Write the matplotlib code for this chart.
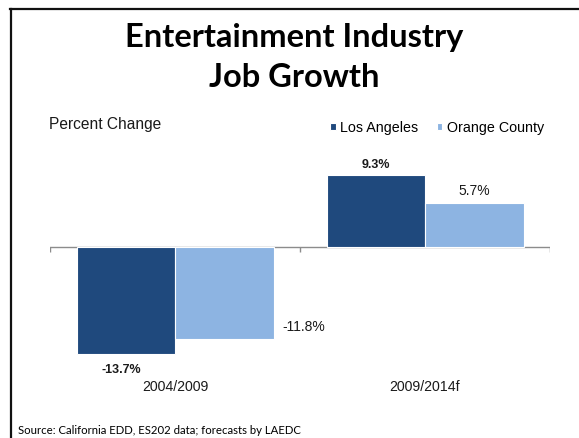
import matplotlib.pyplot as plt
from matplotlib.lines import Line2D

# Job growth, percent change by period
periods = ['2004/2009', '2009/2014f']
los_angeles = [-13.7, 9.3]
orange_county = [-11.8, 5.7]
series_names = ['Los Angeles', 'Orange County']

la_color = '#1F497D'
oc_color = '#8DB4E2'

fig = plt.figure(figsize=(5.79, 4.38), dpi=100)
ax = fig.add_axes([0.0864, 0.1690, 0.8636, 0.4797])

width = 0.394
x = list(range(len(periods)))
b1 = ax.bar([i - width / 2 for i in x], los_angeles, width, color=la_color,
            edgecolor='white', linewidth=0.8, label=series_names[0], zorder=3)
b2 = ax.bar([i + width / 2 for i in x], orange_county, width, color=oc_color,
            edgecolor='white', linewidth=0.8, label=series_names[1], zorder=3)

ax.set_xlim(-0.5, 1.5)
ax.set_ylim(-15, 12)
ax.axis('off')

# zero line with category separator ticks
ax.axhline(0, color='#8c8c8c', linewidth=1.0, zorder=2)
ax.vlines([-0.5, 0.5, 1.5], -0.55, 0, color='#8c8c8c', linewidth=1.0)

lab = dict(family='Liberation Sans', color='#1a1a1a')

# value labels
ax.text(x[1] - width / 2, los_angeles[1] + 1.3, f'{los_angeles[1]:.1f}%',
        ha='center', va='center', fontsize=9, fontweight='bold', **lab)
ax.text(x[1] + width / 2, orange_county[1] + 1.5, f'{orange_county[1]:.1f}%',
        ha='center', va='center', fontsize=10, **lab)
ax.text(0.514, orange_county[0] + 1.6, f'{orange_county[0]:.1f}%',
        ha='center', va='center', fontsize=10, **lab)
ax.text(-0.213, los_angeles[0] - 2.07, f'{los_angeles[0]:.1f}%',
        ha='center', va='center', fontsize=9, fontweight='bold', **lab)

# category labels
for i, p in zip(x, periods):
    ax.text(i, -17.9, p, ha='center', va='center', fontsize=10.2, **lab)

# titles
fig.text(0.508, 1 - 47 / 438, 'Entertainment Industry', ha='center', va='baseline',
         family='Lato', fontweight='bold', fontsize=23.5, color='black')
fig.text(0.508, 1 - 87 / 438, 'Job Growth', ha='center', va='baseline',
         family='Lato', fontweight='bold', fontsize=23.5, color='black')

fig.text(49 / 579, 1 - 124 / 438, 'Percent Change', ha='left', va='center',
         fontsize=11.2, **lab)

fig.legend(handles=[b1, b2], loc='center left',
           bbox_to_anchor=(330 / 579, 1 - 128 / 438), ncol=2, frameon=False,
           prop={'family': 'Liberation Sans', 'size': 10.3},
           handlelength=0.4, handleheight=0.4, handletextpad=0.3,
           columnspacing=1.3, borderpad=0, borderaxespad=0)

fig.text(18 / 579, 1 - 430.7 / 438,
         'Source: California EDD, ES202 data; forecasts by LAEDC',
         ha='left', va='center', family='Lato', fontsize=8.2, color='black')

# slide frame
fig.add_artist(Line2D([10 / 579, 1], [1 - 8.5 / 438] * 2, color='#111111',
                      linewidth=1.6, transform=fig.transFigure))
fig.add_artist(Line2D([11 / 579] * 2, [1 - 8.5 / 438, 0], color='#111111',
                      linewidth=1.6, transform=fig.transFigure))

fig.savefig('out.png', dpi=100)
